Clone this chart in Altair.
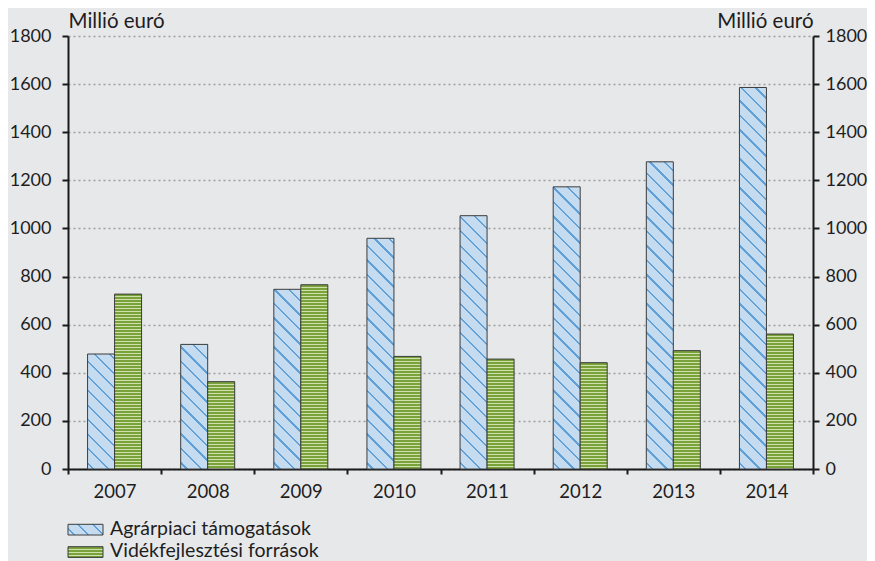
import altair as alt
import pandas as pd

# ---- data ----
years = ["2007", "2008", "2009", "2010", "2011", "2012", "2013", "2014"]
series = ["Agrárpiaci támogatások", "Vidékfejlesztési források"]
agrar = [478, 518, 747, 959, 1053, 1173, 1277, 1586]
videk = [727, 363, 766, 468, 457, 442, 492, 561]
y_ticks = [0, 200, 400, 600, 800, 1000, 1200, 1400, 1600, 1800]
unit_title = "Millió euró"

# ---- layout / style ----
W, H = 745, 433
YMAX = 1800
STEP = W / len(years)
BAR_W = 27
PAD_OUT = (STEP / BAR_W - 2) / 2
FONT = "Lato"
FS = 18
FS_X = 18.5
FS_TITLE = 20.5
FS_LEG = 19.5
TXT = "#1e1e1e"
BG = "#e7e8ea"
BLUE_BG, BLUE_FG = "#c5dbf0", "#62a0d8"
GREEN_DARK, GREEN_LIGHT = "#7aa23a", "#cfe0ad"


def diag_gradient(w, h, period=14.5, line=2.4):
    total = w + h
    lam = total / (w * w + h * h)
    stops = [{"offset": 0, "color": BLUE_BG}]
    k = 0
    while True:
        a = (k * period + 5) / total
        if a >= 1:
            break
        b = min(a + line / total, 1)
        stops += [{"offset": a, "color": BLUE_BG}, {"offset": a, "color": BLUE_FG},
                  {"offset": b, "color": BLUE_FG}, {"offset": b, "color": BLUE_BG}]
        k += 1
    stops.append({"offset": 1, "color": BLUE_BG})
    return {"gradient": "linear", "x1": 0, "y1": 1, "x2": lam * w, "y2": 1 - lam * h,
            "stops": stops}


def hstripe_gradient(h, period=3.0, dark=2.0):
    stops = [{"offset": 0, "color": GREEN_DARK}]
    k = 0
    while True:
        a = (k * period + dark) / h
        if a >= 1:
            break
        b = min((k + 1) * period / h, 1)
        stops += [{"offset": a, "color": GREEN_DARK}, {"offset": a, "color": GREEN_LIGHT},
                  {"offset": b, "color": GREEN_LIGHT}, {"offset": b, "color": GREEN_DARK}]
        k += 1
    stops.append({"offset": 1, "color": GREEN_DARK})
    return {"gradient": "linear", "x1": 0.5, "y1": 0, "x2": 0.5, "y2": 1, "stops": stops}


df = pd.DataFrame({
    "Year": years * 2,
    "Series": [series[0]] * len(years) + [series[1]] * len(years),
    "Value": agrar + videk,
})

conds = []
for i, yr in enumerate(years):
    conds.append({"test": f"datum.Year == '{yr}' && datum.Series == '{series[0]}'",
                  "value": diag_gradient(BAR_W, agrar[i] * H / YMAX)})
    conds.append({"test": f"datum.Year == '{yr}' && datum.Series == '{series[1]}'",
                  "value": hstripe_gradient(videk[i] * H / YMAX)})

x_axis = alt.Axis(title=None, labelAngle=0, tickBand="extent", tickSize=5,
                  tickWidth=2, tickColor="#1a1a1a", domainColor="#1a1a1a",
                  domainWidth=2, labelPadding=8, labelFontSize=FS_X,
                  labelFont=FONT, labelColor=TXT, grid=False)
x_enc = alt.X("Year:N", sort=years, scale=alt.Scale(paddingInner=0, paddingOuter=0),
              axis=x_axis)
xoff_enc = alt.XOffset("Series:N", sort=series,
                       scale=alt.Scale(domain=series, paddingInner=0, paddingOuter=PAD_OUT))
y_scale = alt.Scale(domain=[0, YMAX], nice=False)

common_axis = dict(values=y_ticks, format="d", tickSize=6, tickWidth=2, tickColor="#1a1a1a",
                   domainColor="#1a1a1a", domainWidth=2,
                   labelFontSize=FS, labelFont=FONT, labelColor=TXT,
                   title=unit_title, titleAngle=0, titleFont=FONT, titleFontSize=FS_TITLE,
                   titleFontWeight="normal", titleColor=TXT, titleY=-9,
                   titleBaseline="alphabetic", titleX=0)

left_axis = alt.Axis(orient="left", grid=True, gridDash=[2, 3], gridColor="#9d9d9d",
                     gridWidth=1.3, titleAlign="left", labelPadding=11, **common_axis)
right_axis = alt.Axis(orient="right", grid=False, titleAlign="right", labelPadding=6,
                      **common_axis)

bars = alt.Chart(df).mark_bar(stroke="#3c3c3c", strokeWidth=1).encode(
    x=x_enc,
    xOffset=xoff_enc,
    y=alt.Y("Value:Q", scale=y_scale, axis=left_axis),
    fill=alt.FillValue(value=BLUE_BG, condition=conds),
)

right = alt.Chart(df).mark_bar(opacity=0).encode(
    x=x_enc,
    xOffset=xoff_enc,
    y=alt.Y("Value:Q", scale=y_scale, axis=right_axis),
)

# ---- legend ----
leg_df = pd.DataFrame({"k": [0]})
SW_W, SW_H = 35, 10.7
rows = [(488.3, series[0], diag_gradient(SW_W, SW_H)),
        (510.7, series[1], hstripe_gradient(SW_H))]
legend_layers = []
for ytop, name, grad in rows:
    legend_layers.append(
        alt.Chart(leg_df).mark_rect(stroke="#3c3c3c", strokeWidth=1).encode(
            x=alt.value(0), x2=alt.value(SW_W), y=alt.value(ytop), y2=alt.value(ytop + SW_H),
            fill=alt.value(grad)))
    legend_layers.append(
        alt.Chart(leg_df).mark_text(align="left", baseline="alphabetic", font=FONT,
                                    fontSize=FS_LEG, color=TXT).encode(
            x=alt.value(42), y=alt.value(ytop + 10.5), text=alt.value(name)))

chart = alt.layer(bars, right, *legend_layers).resolve_scale(y="independent").properties(
    width=W, height=H,
    autosize=alt.AutoSizeParams(type="none"),
    padding={"left": 60, "top": 28, "right": 54, "bottom": 92},
).configure(background=BG).configure_view(stroke=None)

chart.save("out.html", embed_options={"renderer": "svg", "actions": False})
